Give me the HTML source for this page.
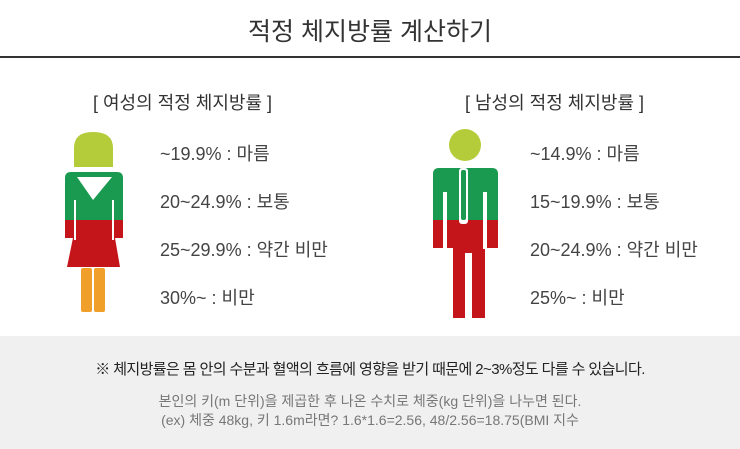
<!DOCTYPE html>
<html><head><meta charset="utf-8"><style>
body{margin:0;width:740px;height:449px;background:#fff;position:relative;overflow:hidden;font-family:"Liberation Sans","Noto Sans CJK KR",sans-serif;}
.t{position:absolute;white-space:nowrap;}
</style></head><body>
<div class="t" style="left:0;width:740px;text-align:center;top:12px;font-size:25px;color:#333;">적정 체지방률 계산하기</div>
<div style="position:absolute;left:0;top:56px;width:740px;height:2px;background:#333;"></div>
<div class="t" style="left:93px;top:89px;font-size:18px;color:#333;">[ 여성의 적정 체지방률 ]</div>
<div class="t" style="left:465px;top:89px;font-size:18px;color:#333;">[ 남성의 적정 체지방률 ]</div>
<div class="t" style="left:160px;top:130px;font-size:18px;color:#444;line-height:48px;">~19.9% : 마름<br>20~24.9% : 보통<br>25~29.9% : 약간 비만<br>30%~ : 비만</div>
<div class="t" style="left:530px;top:130px;font-size:18px;color:#444;line-height:48px;">~14.9% : 마름<br>15~19.9% : 보통<br>20~24.9% : 약간 비만<br>25%~ : 비만</div>
<svg style="position:absolute;left:0;top:0" width="740" height="336">
<path d="M74 167 V148 Q74 132 93 132 Q113 132 113 148 V167 Z" fill="#b5cc3a"/>
<path d="M65 220 V178 Q65 172 71 172 H117 Q123 172 123 178 V220 Z" fill="#1a9a50"/>
<path d="M65 220 H123 V238 H115 L120 267 H67 L73 238 H65 Z" fill="#c4151b"/>
<rect x="74" y="200" width="2" height="40" fill="#fff"/>
<rect x="112" y="200" width="2" height="40" fill="#fff"/>
<polygon points="77,177 112,177 93,200" fill="#fff"/>
<rect x="81" y="268" width="11" height="44" rx="2" fill="#f0a02a"/>
<rect x="94" y="268" width="11" height="44" rx="2" fill="#f0a02a"/>
<circle cx="465" cy="145" r="16" fill="#b5cc3a"/>
<path d="M433 220 V174 Q433 168 439 168 H492 Q498 168 498 174 V220 Z" fill="#1a9a50"/>
<path d="M433 220 H498 V248 H485 V318 H472 V253 H465 V318 H453 V248 H433 Z" fill="#c4151b"/>
<rect x="443" y="192" width="4" height="57" fill="#fff"/>
<rect x="483" y="192" width="4" height="57" fill="#fff"/>
<rect x="459" y="168" width="9" height="56" rx="3" fill="#fff"/>
<rect x="461" y="170" width="5" height="50" rx="2" fill="#1a9a50"/>
</svg>
<div style="position:absolute;left:0;top:336px;width:740px;height:113px;background:#f0f0f0;"></div>
<div class="t" style="left:0;width:740px;text-align:center;top:358px;font-size:15px;letter-spacing:-0.6px;color:#222;">※ 체지방률은 몸 안의 수분과 혈액의 흐름에 영향을 받기 때문에 2~3%정도 다를 수 있습니다.</div>
<div class="t" style="left:0;width:740px;text-align:center;top:392px;font-size:14px;color:#777;line-height:19px;">본인의 키(m 단위)을 제곱한 후 나온 수치로 체중(kg 단위)을 나누면 된다.<br>(ex) 체중 48kg, 키 1.6m라면? 1.6*1.6=2.56, 48/2.56=18.75(BMI 지수</div>
</body></html>
